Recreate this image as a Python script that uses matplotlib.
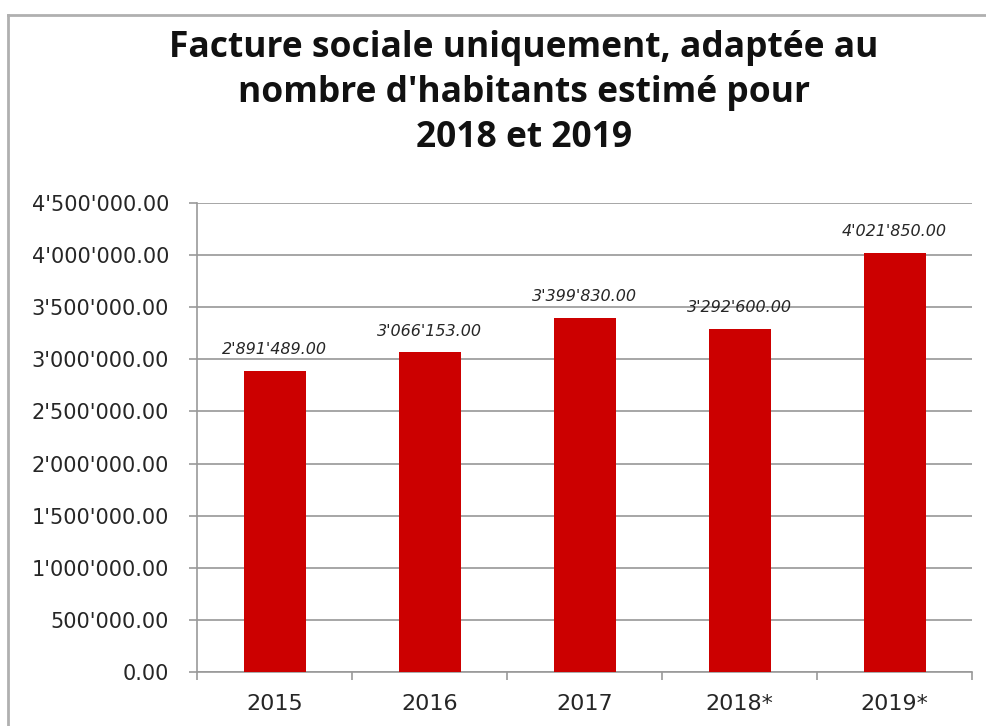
import matplotlib.pyplot as plt
from matplotlib.lines import Line2D

years = ["2015", "2016", "2017", "2018*", "2019*"]
amounts = [2891489.00, 3066153.00, 3399830.00, 3292600.00, 4021850.00]
yticks = [0, 500000, 1000000, 1500000, 2000000, 2500000, 3000000, 3500000, 4000000, 4500000]

title = "Facture sociale uniquement, adaptée au\nnombre d'habitants estimé pour\n2018 et 2019"


def fmt(v):
    return f"{v:,.2f}".replace(",", "'")


fig = plt.figure(figsize=(9.87, 7.26), dpi=100)
ax = fig.add_axes([0.1996, 0.0744, 0.7854, 0.646])

x = range(len(years))
ax.bar(x, amounts, width=0.4, color="#cc0000", zorder=3)

for xi, v in zip(x, amounts):
    ax.annotate(fmt(v), (xi, v), xytext=(0, 10), textcoords="offset points",
                ha="center", va="bottom", fontsize=11.5, style="italic",
                family="DejaVu Sans", color="#262626")

ax.set_xlim(-0.5, len(years) - 0.5)
ax.set_ylim(0, 4500000)
ax.set_yticks(yticks)
ax.set_yticklabels([fmt(t) for t in yticks], family="DejaVu Sans", fontsize=15, color="#262626")
ax.set_xticks(list(x))
ax.set_xticklabels(years, family="DejaVu Sans", fontsize=16, color="#262626")
ax.set_xticks([i - 0.5 for i in range(len(years) + 1)], minor=True)
ax.tick_params(axis="x", which="major", length=0, pad=16)
ax.tick_params(axis="x", which="minor", length=6, color="#999999", width=1.2)
ax.tick_params(axis="y", length=6, color="#999999", width=1.2, pad=14)

ax.grid(axis="y", color="#a6a6a6", linewidth=1.4, zorder=0)
for side in ["top", "right"]:
    ax.spines[side].set_visible(False)
for side in ["left", "bottom"]:
    ax.spines[side].set_color("#999999")
    ax.spines[side].set_linewidth(1.2)

fig.text(0.531, 0.958, title, ha="center", va="top", fontsize=25.5, fontweight="bold",
         family="Open Sans", linespacing=1.33, color="#111111")

# outer frame lines from the original screenshot
fig.add_artist(Line2D([0.008, 1.0], [0.979, 0.979], color="#b0b0b0", linewidth=2))
fig.add_artist(Line2D([0.008, 0.008], [0.0, 0.979], color="#b0b0b0", linewidth=2))

fig.savefig("out.png", dpi=100)
